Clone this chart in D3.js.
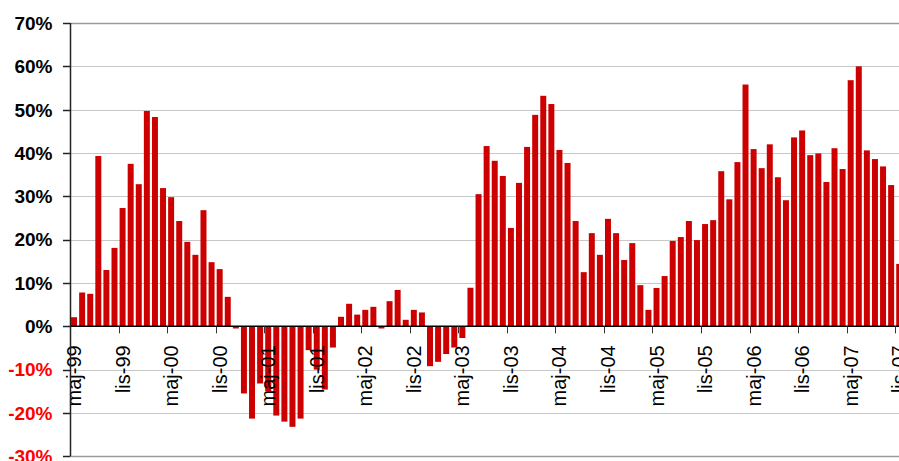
<!DOCTYPE html>
<html>
<head>
<meta charset="utf-8">
<script src="https://cdn.jsdelivr.net/npm/d3@7"></script>
<style>
  html, body { margin: 0; padding: 0; background: #ffffff; }
  svg { display: block; }
</style>
</head>
<body>
<svg id="chart" width="899" height="461"></svg>
<script>
// ---- data (monthly, maj-99 .. lis-07), values in % ----
const values = [
  2.1, 7.8, 7.5, 39.3, 13.0, 18.1, 27.3, 37.5, 32.8, 49.7,
  48.3, 31.9, 29.8, 24.3, 19.5, 16.5, 26.8, 14.8, 13.2, 6.8,
  -0.5, -15.5, -21.3, -13.2, -15.0, -20.6, -22.0, -23.2, -21.3, -5.5,
  -10.0, -14.6, -4.9, 2.2, 5.2, 2.7, 3.8, 4.5, -0.5, 5.8,
  8.4, 1.5, 3.8, 3.2, -9.2, -8.2, -6.4, -4.9, -2.7, 8.9,
  30.5, 41.6, 38.2, 34.7, 22.7, 33.1, 41.4, 48.8, 53.2, 51.3,
  40.7, 37.7, 24.3, 12.5, 21.5, 16.5, 24.8, 21.5, 15.3, 19.2,
  9.5, 3.8, 8.85, 11.6, 19.7, 20.6, 24.3, 19.9, 23.6, 24.5,
  35.8, 29.3, 37.9, 55.8, 40.9, 36.5, 42.0, 34.4, 29.1, 43.6,
  45.2, 39.5, 39.9, 33.3, 41.1, 36.3, 56.8, 60.0, 40.6, 38.6,
  36.9, 32.6, 14.4
];
const categories = values.map((_, i) => i);
const tickEvery = 6;
const xTickLabels = [
  "maj-99", "lis-99", "maj-00", "lis-00", "maj-01", "lis-01",
  "maj-02", "lis-02", "maj-03", "lis-03", "maj-04", "lis-04",
  "maj-05", "lis-05", "maj-06", "lis-06", "maj-07", "lis-07"
];
const yTicks = [-30, -20, -10, 0, 10, 20, 30, 40, 50, 60, 70];
const yTickLabels = ["-30%", "-20%", "-10%", "0%", "10%", "20%", "30%", "40%", "50%", "60%", "70%"];

// ---- layout ----
const svg = d3.select("#chart");
const plotLeft = 70, plotTop = 23, plotBottom = 456.3;
const step = 8.09;
const plotRight = plotLeft + step * values.length;

const x = d3.scaleBand()
  .domain(categories)
  .range([plotLeft, plotRight])
  .paddingInner(0.26)
  .paddingOuter(0.13);
const y = d3.scaleLinear().domain([-30, 70]).range([plotBottom, plotTop]);
const boundary = i => plotLeft + i * x.step();

svg.append("rect").attr("width", 899).attr("height", 461).attr("fill", "#ffffff");

// gridlines
svg.append("g").selectAll("line")
  .data(yTicks)
  .join("line")
  .attr("x1", plotLeft).attr("x2", plotRight)
  .attr("y1", d => Math.round(y(d)) + 0.5)
  .attr("y2", d => Math.round(y(d)) + 0.5)
  .attr("stroke", d => (d === 70 || d === -30) ? "#9a9a9a" : "#c8c8c8")
  .attr("stroke-width", d => (d === 70 || d === -30) ? 1.5 : 1);

// bars
svg.append("g").selectAll("rect")
  .data(values)
  .join("rect")
  .attr("x", (d, i) => x(i))
  .attr("width", x.bandwidth())
  .attr("y", d => y(Math.max(0, d)))
  .attr("height", d => Math.abs(y(d) - y(0)))
  .attr("fill", "#cc0000");

// x axis line at 0
const y0 = y(0);
svg.append("line")
  .attr("x1", plotLeft).attr("x2", plotRight)
  .attr("y1", y0).attr("y2", y0)
  .attr("stroke", "#000").attr("stroke-width", 1.5);

// x ticks
const xTickIdx = xTickLabels.map((_, k) => k * tickEvery);
svg.append("g").selectAll("line")
  .data(xTickIdx)
  .join("line")
  .attr("x1", i => Math.round(boundary(i)) + 0.5)
  .attr("x2", i => Math.round(boundary(i)) + 0.5)
  .attr("y1", y0).attr("y2", y0 + 7)
  .attr("stroke", "#333").attr("stroke-width", 1);

// x labels (rotated, centered on category)
svg.append("g").selectAll("text")
  .data(xTickLabels)
  .join("text")
  .attr("transform", (d, k) => {
    const i = k * tickEvery;
    const cx = x(i) + x.bandwidth() / 2;
    return `translate(${cx},${y0 + 19}) rotate(-90)`;
  })
  .attr("dy", "0.35em")
  .attr("text-anchor", "end")
  .attr("font-family", "'Liberation Sans', Arial, sans-serif")
  .attr("font-size", 20)
  .attr("fill", "#000")
  .text(d => d);

// y axis line
svg.append("line")
  .attr("x1", plotLeft + 0.5).attr("x2", plotLeft + 0.5)
  .attr("y1", plotTop).attr("y2", plotBottom)
  .attr("stroke", "#222").attr("stroke-width", 1.5);

// y ticks
svg.append("g").selectAll("line")
  .data(yTicks)
  .join("line")
  .attr("x1", plotLeft - 7).attr("x2", plotLeft)
  .attr("y1", d => Math.round(y(d)) + 0.5)
  .attr("y2", d => Math.round(y(d)) + 0.5)
  .attr("stroke", "#222").attr("stroke-width", 1.5);

// y labels
svg.append("g").selectAll("text")
  .data(yTicks)
  .join("text")
  .attr("x", 52.5)
  .attr("y", d => y(d))
  .attr("dy", "0.36em")
  .attr("text-anchor", "end")
  .attr("font-family", "'Liberation Sans', Arial, sans-serif")
  .attr("font-weight", "bold")
  .attr("font-size", 19)
  .attr("fill", d => d < 0 ? "#ff0000" : "#000")
  .text((d, i) => yTickLabels[i]);
</script>
</body>
</html>
